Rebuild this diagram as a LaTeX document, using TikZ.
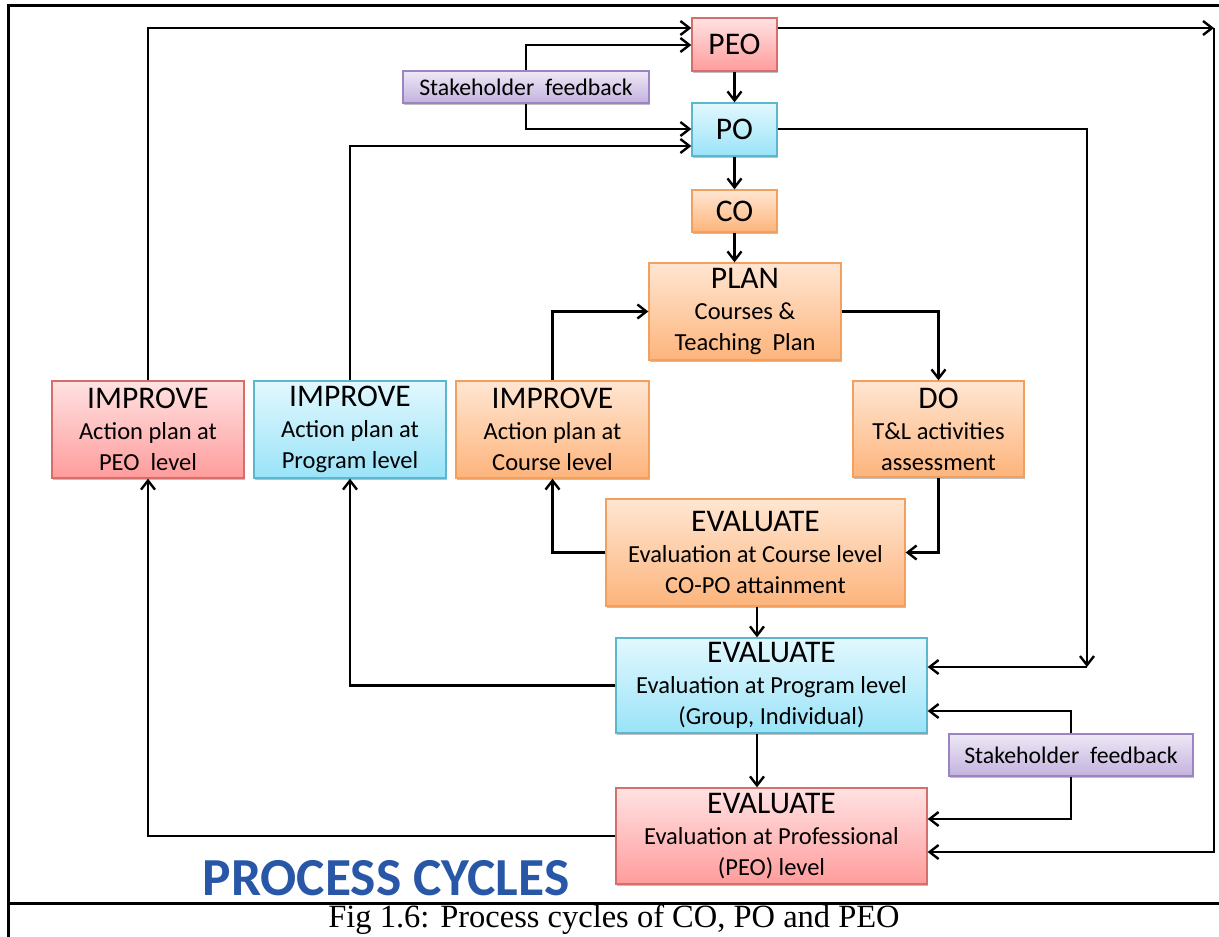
\documentclass[tikz,border=0pt]{standalone}
\usepackage{fontspec}
\setmainfont{Carlito}
\newfontfamily\capfont{Liberation Serif}
\usetikzlibrary{arrows.meta,shadows}

\definecolor{redtop}{HTML}{FFE2E2}
\definecolor{redbot}{HTML}{FF9C9C}
\definecolor{redline}{HTML}{D66F6C}
\definecolor{bluetop}{HTML}{E2F8FE}
\definecolor{bluebot}{HTML}{9AE3F8}
\definecolor{blueline}{HTML}{5BB6CE}
\definecolor{orgtop}{HTML}{FFE6D2}
\definecolor{orgbot}{HTML}{FDB47C}
\definecolor{orgline}{HTML}{F3A05E}
\definecolor{purtop}{HTML}{EEE8F6}
\definecolor{purbot}{HTML}{C3B2DD}
\definecolor{purline}{HTML}{9B84C3}
\definecolor{titleblue}{HTML}{2857A8}

\newcommand{\boxtitle}[1]{{\fontsize{31.5}{33}\selectfont #1}}

\tikzset{
  cbox/.style={draw, line width=1.3pt, inner sep=0pt, align=center,
    font=\fontsize{24.5}{31}\selectfont,
    drop shadow={shadow xshift=1.2pt, shadow yshift=-2pt, opacity=0.25, fill=black}},
  redbox/.style={cbox, draw=redline, top color=redtop, bottom color=redbot},
  bluebox/.style={cbox, draw=blueline, top color=bluetop, bottom color=bluebot},
  orgbox/.style={cbox, draw=orgline, top color=orgtop, bottom color=orgbot},
  purbox/.style={cbox, draw=purline, top color=purtop, bottom color=purbot,
    font=\fontsize{23.8}{26}\selectfont},
  conn/.style={line width=2.4pt, line join=miter},
  arr/.style={conn, -{Straight Barb[length=9pt, width=14pt, line width=2.4pt]}},
  frame/.style={line width=3pt}
}

\begin{document}
\begin{tikzpicture}[x=1pt, y=-1pt]
  \useasboundingbox (0,0) rectangle (1219,937);

  % outer frame and caption rule
  \draw[frame] (8,937) -- (8,5) -- (1219,5);
  \draw[frame] (8,903) -- (1219,903);

  % objective boxes
  \node[redbox,  minimum width=85pt, minimum height=53pt] (peo) at (734.5,44.5) {\boxtitle{PEO}};
  \node[bluebox, minimum width=85pt, minimum height=53pt] (po)  at (734.5,129.5) {\boxtitle{PO}};
  \node[orgbox,  minimum width=85pt, minimum height=42pt] (co)  at (734.5,211) {\boxtitle{CO}};

  % course level cycle
  \node[orgbox, minimum width=192pt, minimum height=97pt] (plan) at (745,311.5)
    {\boxtitle{PLAN}\\Courses \&\\Teaching~ Plan};
  \node[orgbox, minimum width=171pt, minimum height=96pt] (do) at (938.5,429)
    {\boxtitle{DO}\\T\&L activities\\assessment};
  \node[orgbox, minimum width=299pt, minimum height=107pt] (evc) at (755.5,552.5)
    {\boxtitle{EVALUATE}\\Evaluation at Course level\\CO-PO attainment};
  \node[orgbox, minimum width=193pt, minimum height=97pt] (imp3) at (552.5,429.5)
    {\boxtitle{IMPROVE}\\Action plan at\\Course level};

  % program level cycle
  \node[bluebox, minimum width=192pt, minimum height=97pt] (imp2) at (350,429.5)
    {\boxtitle{IMPROVE}\\Action plan at\\Program level};
  \node[bluebox, minimum width=311pt, minimum height=95pt] (evp) at (771.5,685.5)
    {\boxtitle{EVALUATE}\\Evaluation at Program level\\(Group, Individual)};

  % PEO level cycle
  \node[redbox, minimum width=192pt, minimum height=97pt] (imp1) at (148,429.5)
    {\boxtitle{IMPROVE}\\Action plan at\\PEO~ level};
  \node[redbox, minimum width=311pt, minimum height=96pt] (eve) at (771.5,836)
    {\boxtitle{EVALUATE}\\Evaluation at Professional\\(PEO) level};

  % stakeholder inputs
  \node[purbox, minimum width=246pt, minimum height=32pt] (sf1) at (526,87) {Stakeholder~ feedback};
  \node[purbox, minimum width=244pt, minimum height=42pt] (sf2) at (1071,755) {Stakeholder~ feedback};

  % headline and caption
  \node[font=\fontsize{53.5}{56}\selectfont\bfseries, text=titleblue] (head) at (386,878) {PROCESS CYCLES};
  \node[font=\capfont\fontsize{32.5}{34}\selectfont] (cap) at (614,920) {Fig 1.6: Process cycles of CO, PO and PEO};

  % routing levels
  \coordinate (y28) at (0,28);
  \coordinate (y45) at (0,45);
  \coordinate (y129) at (0,129);
  \coordinate (y146) at (0,146);
  \coordinate (y711) at (0,711);
  \coordinate (y819) at (0,819);
  \coordinate (y852) at (0,852);
  \coordinate (x757) at (757,0);
  \coordinate (tr) at (1214,28);
  \coordinate (pc) at (1087,667);

  % top-down chain
  \draw[arr] (peo) -- (po);
  \draw[arr] (po) -- (co);
  \draw[arr] (co.south) -- (co.south |- plan.north);

  % course cycle
  \draw[arr] (plan.east) -| (do.north);
  \draw[arr] (do.south) |- (evc.east);
  \draw[arr] (evc.west) -| (imp3.south);
  \draw[arr] (imp3.north) |- (plan.west);

  % program cycle
  \draw[arr] (x757 |- evc.south) -- (x757 |- evp.north);
  \draw[arr] (evp.west) -| (imp2.south);
  \draw[arr] (imp2.north) |- (po.west |- y146);
  \draw[arr] (po.east |- y129) -| (pc);
  \draw[arr] (pc) -- (evp.east |- pc);

  % PEO cycle
  \draw[arr] (x757 |- evp.south) -- (x757 |- eve.north);
  \draw[arr] (eve.west) -| (imp1.south);
  \draw[arr] (imp1.north) |- (peo.west |- y28);
  \draw[arr] (peo.east |- y28) -- (tr);
  \draw[arr] (tr) |- (eve.east |- y852);

  % stakeholder feedback links
  \draw[arr] (sf1.north) |- (peo.west |- y45);
  \draw[arr] (sf1.south) |- (po.west |- y129);
  \draw[arr] (sf2.north) |- (evp.east |- y711);
  \draw[arr] (sf2.south) |- (eve.east |- y819);
\end{tikzpicture}
\end{document}
